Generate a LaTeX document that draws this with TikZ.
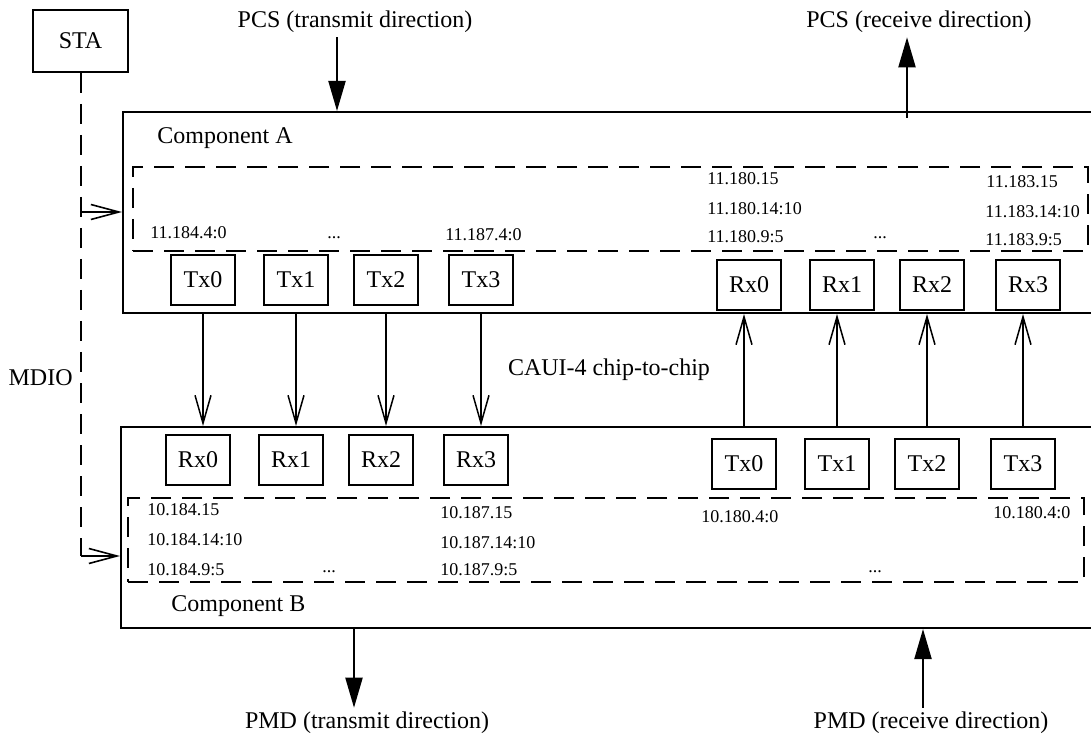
\documentclass[tikz,border=0pt]{standalone}
\usepackage{fontspec}
\setmainfont{Liberation Serif}
\usetikzlibrary{arrows.meta, positioning, fit}

\begin{document}
\begin{tikzpicture}[x=0.5pt, y=-0.5pt,
    font=\fontsize{12}{14}\selectfont, inner sep=2pt,
    comp/.style={draw, line width=1pt, inner sep=0pt},
    regs/.style={draw, line width=1pt, dash pattern=on 10pt off 5.5pt, inner sep=0pt},
    unit/.style={draw, line width=1pt, minimum width=32pt, minimum height=25pt, inner sep=0pt},
    reg/.style={font=\fontsize{9}{10}\selectfont, anchor=west, inner sep=0pt},
    dots/.style={font=\fontsize{9}{10}\selectfont, anchor=base, inner sep=0pt},
    chip/.style={-{Straight Barb[length=14pt, width=8pt]}, line width=0.75pt},
    flow/.style={-{Triangle[length=15pt, width=8.5pt]}, line width=1pt},
    mdio/.style={line width=1pt, dash pattern=on 10pt off 5.5pt},
    mdiotip/.style={-{Straight Barb[length=14pt, width=7.5pt]}, line width=0.8pt}]
    \useasboundingbox (0,0) rectangle (1091,737);
    % the two components and their register blocks
    \node[comp, fit={(123,112) (1092,313)}] (compA) {};
    \node[comp, fit={(121,427) (1092,628)}] (compB) {};
    \node[regs, fit={(133,167) (1088,251)}] (regA) {};
    \node[regs, fit={(128,498) (1084,582)}] (regB) {};
    \node[anchor=west] (nameA) at (153,138) {Component A};
    \node[anchor=west] (nameB) at (167,606) {Component B};
    % management station
    \node[draw, line width=1pt, minimum width=47.5pt, minimum height=31pt, inner sep=0pt] (sta) at (80.5,41) {STA};
    \node[anchor=east] (mdioLabel) at (77,378) {MDIO};
    % lanes of component A
    \node[unit] (txA0) at (203,280) {Tx0};
    \node[unit] (txA1) at (296,280) {Tx1};
    \node[unit] (txA2) at (386,280) {Tx2};
    \node[unit] (txA3) at (481,280) {Tx3};
    \node[unit] (rxA0) at (749,285) {Rx0};
    \node[unit] (rxA1) at (842,285) {Rx1};
    \node[unit] (rxA2) at (932,285) {Rx2};
    \node[unit] (rxA3) at (1028,285) {Rx3};
    % lanes of component B
    \node[unit] (rxB0) at (198,460) {Rx0};
    \node[unit] (rxB1) at (291,460) {Rx1};
    \node[unit] (rxB2) at (381,460) {Rx2};
    \node[unit] (rxB3) at (476,460) {Rx3};
    \node[unit] (txB0) at (744,464) {Tx0};
    \node[unit] (txB1) at (837,464) {Tx1};
    \node[unit] (txB2) at (927,464) {Tx2};
    \node[unit] (txB3) at (1023,464) {Tx3};
    % register addresses, component A
    \node[reg] (a184) at (150,233) {11.184.4:0};
    \node[dots] (aDotsL) at (334,239) {...};
    \node[reg] (a187) at (445,235) {11.187.4:0};
    \node[reg] (a180hi) at (707,179) {11.180.15};
    \node[reg] (a180mid) at (707,209) {11.180.14:10};
    \node[reg] (a180lo) at (707,237) {11.180.9:5};
    \node[dots] (aDotsR) at (880,239) {...};
    \node[reg] (a183hi) at (986,182) {11.183.15};
    \node[reg] (a183mid) at (985,212) {11.183.14:10};
    \node[reg] (a183lo) at (985,240) {11.183.9:5};
    % register addresses, component B
    \node[reg] (b184hi) at (147,510) {10.184.15};
    \node[reg] (b184mid) at (147,540) {10.184.14:10};
    \node[reg] (b184lo) at (147,570) {10.184.9:5};
    \node[dots] (bDotsL) at (329,572) {...};
    \node[reg] (b187hi) at (440,513) {10.187.15};
    \node[reg] (b187mid) at (440,543) {10.187.14:10};
    \node[reg] (b187lo) at (440,570) {10.187.9:5};
    \node[reg] (b180l) at (701,517) {10.180.4:0};
    \node[dots] (bDotsR) at (875,572) {...};
    \node[reg] (b180r) at (993,513) {10.180.4:0};
    % outside interfaces
    \node (pcsTx) at (355,22) {PCS (transmit direction)};
    \node (pcsRx) at (919,22) {PCS (receive direction)};
    \node (pmdTx) at (367,723) {PMD (transmit direction)};
    \node (pmdRx) at (931,723) {PMD (receive direction)};
    \coordinate (pcsTxX) at (337,0);
    \coordinate (pcsRxX) at (907,0);
    \coordinate (pmdTxX) at (354,0);
    \coordinate (pmdRxX) at (923,0);
    \draw[flow] (pcsTx.south -| pcsTxX) -- (compA.north -| pcsTxX);
    \draw[flow, shorten <=-3.5pt] (compA.north -| pcsRxX) -- (pcsRx.south -| pcsRxX);
    \draw[flow] (compB.south -| pmdTxX) -- (pmdTx.north -| pmdTxX);
    \draw[flow] (pmdRx.north -| pmdRxX) -- (compB.south -| pmdRxX);
    % chip-to-chip lanes
    \node (caui) at (609,370) {CAUI-4 chip-to-chip};
    \draw[chip] (txA0 |- compA.south) -- (txA0 |- compB.north);
    \draw[chip] (txA1 |- compA.south) -- (txA1 |- compB.north);
    \draw[chip] (txA2 |- compA.south) -- (txA2 |- compB.north);
    \draw[chip] (txA3 |- compA.south) -- (txA3 |- compB.north);
    \draw[chip] (txB0 |- compB.north) -- (txB0 |- compA.south);
    \draw[chip] (txB1 |- compB.north) -- (txB1 |- compA.south);
    \draw[chip] (txB2 |- compB.north) -- (txB2 |- compA.south);
    \draw[chip] (txB3 |- compB.north) -- (txB3 |- compA.south);
    % management lines: dashed trunk, solid stubs into the components
    \coordinate (mdioA) at (0,212);
    \coordinate (mdioB) at (0,556);
    \draw[mdio] (sta.south) -- (sta.south |- mdioB);
    \draw[mdiotip] (sta.south |- mdioA) -- (compA.west |- mdioA);
    \draw[mdiotip] (sta.south |- mdioB) -- (compB.west |- mdioB);
\end{tikzpicture}
\end{document}
